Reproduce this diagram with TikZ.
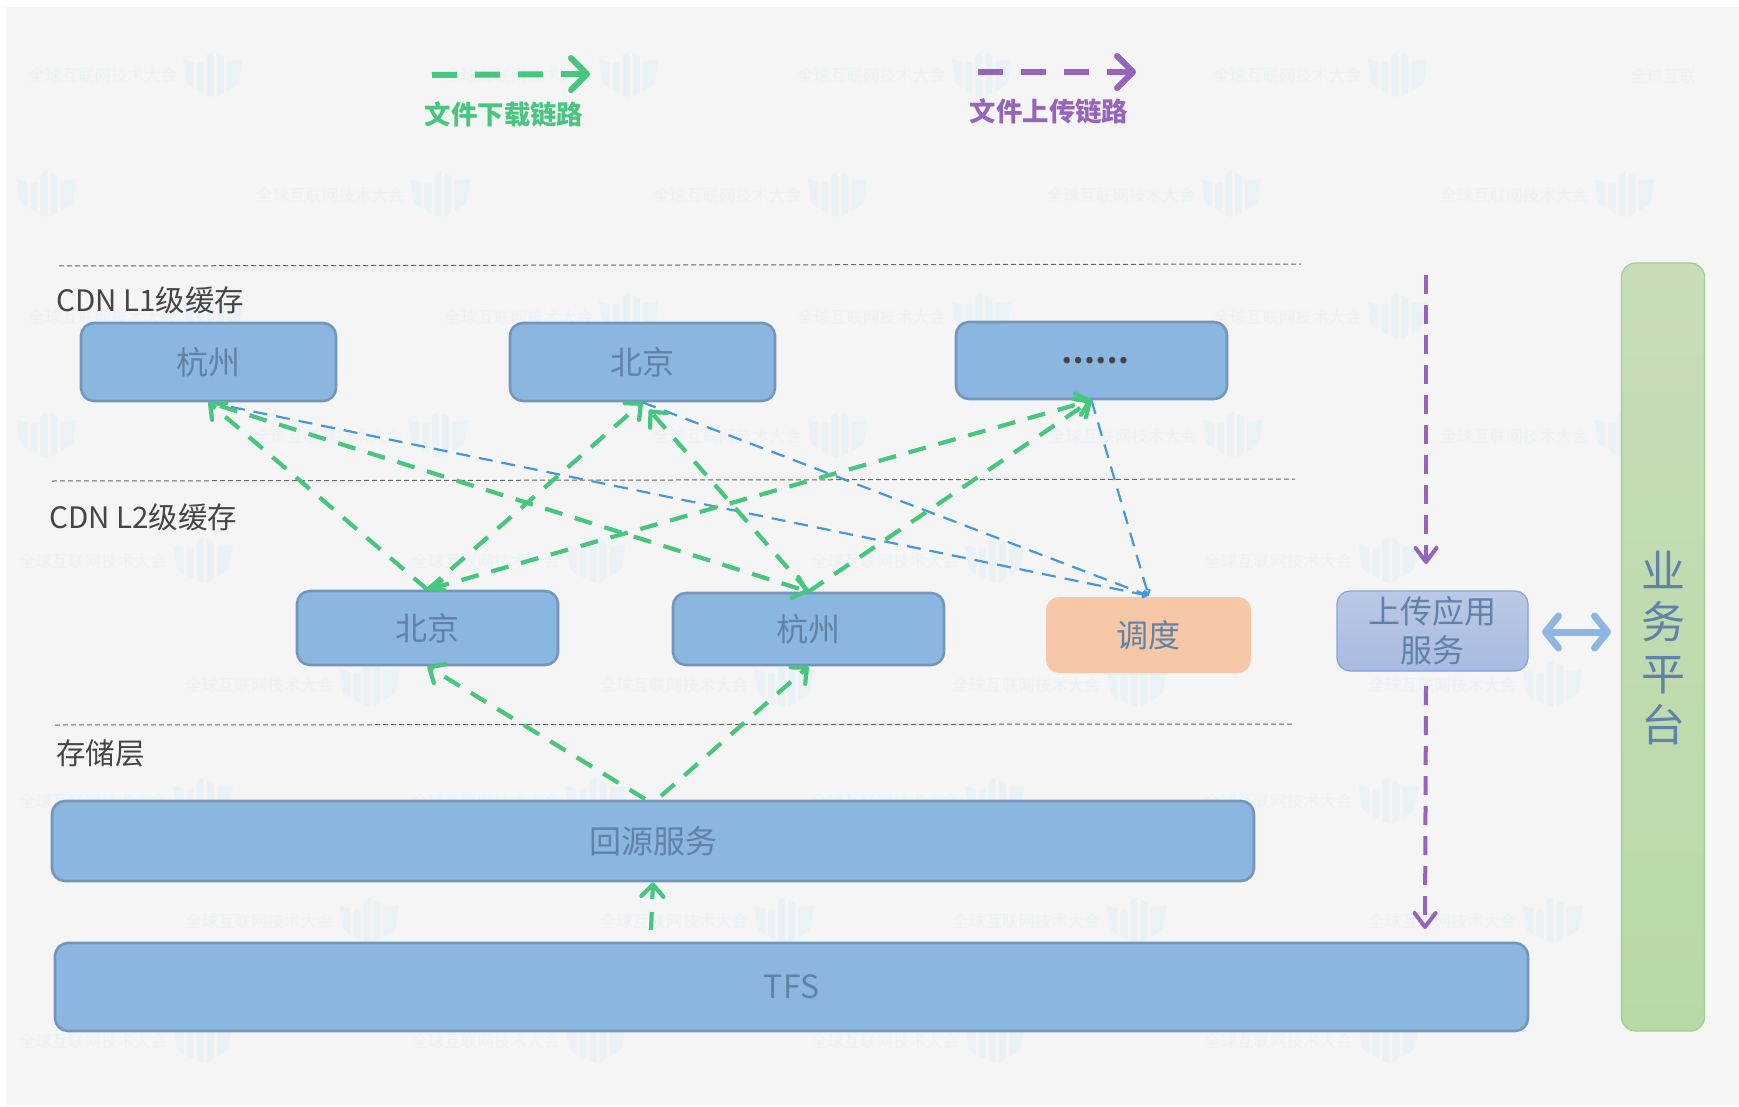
\documentclass[tikz,border=0pt]{standalone}
\usepackage{fontspec}
\setmainfont{Noto Sans CJK SC}
\usetikzlibrary{arrows.meta}
\definecolor{bgc}{HTML}{F5F5F5}
\definecolor{wmc}{HTML}{EBF2F5}
\definecolor{boxf}{HTML}{8AB6E0}
\definecolor{boxd}{HTML}{7396BC}
\definecolor{boxt}{HTML}{5F82A6}
\definecolor{labt}{HTML}{454545}
\definecolor{grn}{HTML}{46C67F}
\definecolor{pur}{HTML}{9764BC}
\definecolor{blu}{HTML}{4499D6}
\definecolor{dbl}{HTML}{8DB7E2}
\tikzset{
  cbox/.style={draw=boxd,fill=boxf,line width=2.6pt,rounded corners=13pt,inner sep=0pt,text=boxt,font=\fontsize{32pt}{39pt}\selectfont,align=center},
  lab/.style={anchor=west,inner sep=0pt,text=labt,font=\fontsize{29.5pt}{34pt}\selectfont},
  sep/.style={draw=black!60,line width=1pt,dash pattern=on 5pt off 3pt},
  gline/.style={draw=grn,line width=4.2pt,dash pattern=on 18pt off 13pt,-{Straight Barb[length=12pt,width=22pt,round]}},
  bline/.style={draw=blu,line width=2.2pt,dash pattern=on 14pt off 9pt,-{Straight Barb[length=4pt,width=6pt]}},
  pline/.style={draw=pur,line width=4pt,dash pattern=on 19pt off 11pt,-{Straight Barb[length=14pt,width=21pt,round]}},
  wmtext/.style={inner sep=0pt,text=wmc,font=\fontsize{16.5pt}{18pt}\selectfont},
  wmtextw/.style={wmtext,anchor=west},
  legline/.style={line width=6pt,dash pattern=on 25pt off 18pt,-{Straight Barb[length=16pt,width=32pt,round]}},
}
\begin{document}
\begin{tikzpicture}[x=1pt,y=-1pt]
\useasboundingbox (0,0) rectangle (1739,1107);
\clip (0,0) rectangle (1739,1107);
\fill[white] (0,0) rectangle (1739,1107);
\fill[bgc] (6,7) rectangle (1739,1105);
% watermarks
\foreach \x/\y [count=\i] in {192/67,567/67,885/67,1260/67,
  397/175,755/175,1110/175,1465/175,
  192/285,567/285,885/285,1260/285,
  395/392,755/392,1112/392,1465/392,
  183/505,537/505,897/505,1252/505,
  333/617,707/617,1025/617,1400/617,
  183/722,537/722,897/722,1252/722,
  333/830,707/830,1025/830,1400/830,
  183/938,537/938,897/938,1252/938}{
  \begin{scope}[shift={(\x*1.109,\y*1.109)}]
    \node[wmtext] (wm\i) at (-110,1) {全球互联网技术大会};
    \fill[wmc] (-30,-15) -- (-19,-12) -- (-19,14) -- (-26,9) -- cycle;
    \fill[wmc] (-16,-11) -- (-9,-12) -- (-9,19) -- (-16,15) -- cycle;
    \fill[wmc] (-6,-20) -- (1,-23) -- (1,23) -- (-6,21) -- cycle;
    \fill[wmc] (4,-21) -- (11,-18) -- (11,18) -- (4,23) -- cycle;
    \fill[wmc] (14,-13) -- (30,-15) -- (26,9) -- (14,17) -- cycle;
  \end{scope}
}
% logos alone at the left edge
\foreach \y [count=\i] in {175,392}{
  \begin{scope}[shift={(42*1.109,\y*1.109)}]
    \fill[wmc] (-30,-15) -- (-19,-12) -- (-19,14) -- (-26,9) -- cycle;
    \fill[wmc] (-16,-11) -- (-9,-12) -- (-9,19) -- (-16,15) -- cycle;
    \fill[wmc] (-6,-20) -- (1,-23) -- (1,23) -- (-6,21) -- cycle;
    \fill[wmc] (4,-21) -- (11,-18) -- (11,18) -- (4,23) -- cycle;
    \fill[wmc] (14,-13) -- (30,-15) -- (26,9) -- (14,17) -- cycle;
  \end{scope}
}
% watermark texts that run to the right edge
\node[wmtextw] (wmr1) at (1630,76) {全球互联};
\node[wmtextw] (wmr2) at (1630,317) {全球互联};
% separators
\coordinate (s1a) at (59,266); \coordinate (s1b) at (1301,264);
\coordinate (s2a) at (52,481); \coordinate (s2b) at (1295,479);
\coordinate (s3a) at (55,725); \coordinate (s3b) at (1295,724);
\draw[sep] (s1a) -- (s1b);
\draw[sep] (s2a) -- (s2b);
\draw[sep] (s3a) -- (s3b);
% labels
\node[lab] (lab1) at (56,300) {CDN L1级缓存};
\node[lab] (lab2) at (49,517) {CDN L2级缓存};
\node[lab] (lab3) at (56,753) {存储层};
% boxes
\node[cbox,minimum width=255pt,minimum height=78pt] (hz1) at (208.5,362) {杭州};
\node[cbox,minimum width=265pt,minimum height=78pt] (bj1) at (642.5,362) {北京};
\node[cbox,minimum width=271pt,minimum height=77pt,text=labt] (dd1) at (1091.5,360.5) {\hspace{8pt}\fontsize{30pt}{36pt}\selectfont\textbf{……}};
\node[cbox,minimum width=261pt,minimum height=74pt] (bj2) at (427.5,628) {北京};
\node[cbox,minimum width=271pt,minimum height=72pt] (hz2) at (808.5,629) {杭州};
\node[cbox,draw=none,fill={rgb,255:red,246;green,200;blue,167},minimum width=205pt,minimum height=76pt] (sch) at (1148.5,635) {调度};
\node[cbox,line width=1.2pt,draw={rgb,255:red,134;green,165;blue,220},top color={rgb,255:red,187;green,200;blue,231},bottom color={rgb,255:red,169;green,187;blue,226},minimum width=191pt,minimum height=80pt] (up) at (1432.5,631) {上传应用\\服务};
\node[cbox,minimum width=1202pt,minimum height=80pt] (src) at (653,841) {回源服务};
\node[cbox,minimum width=1473pt,minimum height=88pt] (tfs) at (791.5,987) {TFS};
\node[draw={rgb,255:red,163;green,206;blue,138},line width=1.2pt,rounded corners=14pt,top color={rgb,255:red,199;green,221;blue,186},bottom color={rgb,255:red,184;green,217;blue,165},minimum width=83pt,minimum height=768pt,inner sep=0pt] (biz) at (1663,647) {};
\node[inner sep=0pt,text=boxt,font=\fontsize{44pt}{51.3pt}\selectfont,align=center] (biztext) at (1663,648) {业\\务\\平\\台};
% legend
\coordinate (dla) at (432,75); \coordinate (dlb) at (590,74);
\coordinate (ula) at (978,72); \coordinate (ulb) at (1136,72);
\draw[draw=grn,legline] (dla) -- (dlb);
\draw[draw=pur,legline] (ula) -- (ulb);
\node[inner sep=0pt,text=grn,font=\fontsize{26.4pt}{30pt}\selectfont\bfseries] (dlt) at (504,114) {文件下载链路};
\node[inner sep=0pt,text=pur,font=\fontsize{26.4pt}{30pt}\selectfont\bfseries] (ult) at (1049,111) {文件上传链路};
% blue links
\draw[bline] (hz1.south) -- (sch.north);
\draw[bline] (bj1.south) -- (sch.north);
\draw[bline] (dd1.south) -- (sch.north);
% green links
\draw[gline] (bj2.north) -- (hz1.south);
\draw[gline] (bj2.north) -- (bj1.south);
\draw[gline,{Straight Barb[length=14pt,width=10pt,round]}-{Straight Barb[length=12pt,width=22pt,round]}] (bj2.north) -- (dd1.south);
\draw[gline] (hz2.north) -- (dd1.south);
\draw[gline,shorten >=10pt] (hz2.north) -- (bj1.south);
\draw[gline,shorten <=12pt] (hz1.south) -- (hz2.north);
\coordinate (src1) at (645,799); \coordinate (src2) at (661,796);
\coordinate (tfs1) at (651,930);
\draw[gline] (src1) -- (bj2.south);
\draw[gline] (src2) -- (hz2.south);
\draw[gline] (tfs1) -- (src.south);
% purple links
\coordinate (pa) at (1426,275);
\coordinate (pb) at (1426,564);
\coordinate (pc) at (1426,686);
\coordinate (pd) at (1425,929);
\draw[pline] (pa) -- (pb);
\draw[pline] (pc) -- (pd);
% double arrow
\coordinate (da) at (1542,632); \coordinate (db) at (1611,632);
\draw[draw=dbl,line width=7pt,{Straight Barb[length=13pt,width=32pt,round]}-{Straight Barb[length=13pt,width=32pt,round]}] (da) -- (db);
\end{tikzpicture}
\end{document}
